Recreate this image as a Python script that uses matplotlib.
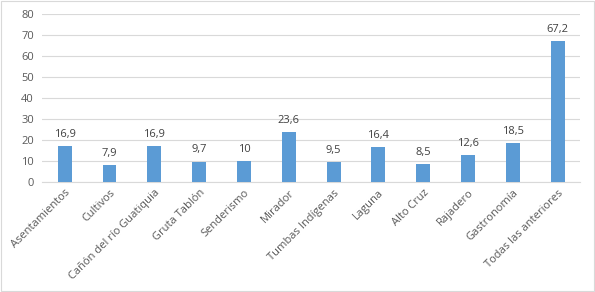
import matplotlib
matplotlib.use("Agg")
import matplotlib.pyplot as plt
from matplotlib.patches import Rectangle

# Data
categories = ["Asentamientos", "Cultivos", "Cañón del río Guatiquia", "Gruta Tablón",
              "Senderismo", "Mirador", "Tumbas Indígenas", "Laguna", "Alto Cruz",
              "Rajadero", "Gastronomía", "Todas las anteriores"]
values = [16.9, 7.9, 16.9, 9.7, 10, 23.6, 9.5, 16.4, 8.5, 12.6, 18.5, 67.2]
labels = ["16,9", "7,9", "16,9", "9,7", "10", "23,6", "9,5", "16,4", "8,5", "12,6", "18,5", "67,2"]
yticks = [0, 10, 20, 30, 40, 50, 60, 70, 80]

plt.rcParams['font.family'] = ['Open Sans', 'DejaVu Sans']
text_color = "#595959"

fig = plt.figure(figsize=(5.95, 2.92), dpi=100)
ax = fig.add_axes([0.071, 0.377, 0.904, 0.575])

x = range(len(categories))
bars = ax.bar(x, values, width=0.31, color="#5B9BD5", zorder=3)

for xi, v, lab in zip(x, values, labels):
    ax.text(xi, v + 3, lab, ha="center", va="bottom", fontsize=8, color="#404040")

ax.set_xlim(-0.5, len(categories) - 0.5)
ax.set_ylim(0, 80)
ax.set_yticks(yticks)
ax.set_yticklabels([str(t) for t in yticks], fontsize=8, color=text_color)
ax.set_xticks(list(x))
ax.set_xticklabels(categories, rotation=45, ha="right", rotation_mode="anchor",
                   fontsize=8, color=text_color)
ax.tick_params(axis="both", length=0, pad=6)
ax.tick_params(axis="x", pad=4)
ax.grid(axis="y", color="#d9d9d9", linewidth=0.8, zorder=0)
for s in ["top", "right", "left"]:
    ax.spines[s].set_visible(False)
ax.spines["bottom"].set_color("#d9d9d9")
ax.spines["bottom"].set_linewidth(0.8)

fig.patches.append(Rectangle((0.002, 0.003), 0.996, 0.994, transform=fig.transFigure,
                             fill=False, edgecolor="#d9d9d9", linewidth=0.8))

fig.savefig("out.png", dpi=100)
